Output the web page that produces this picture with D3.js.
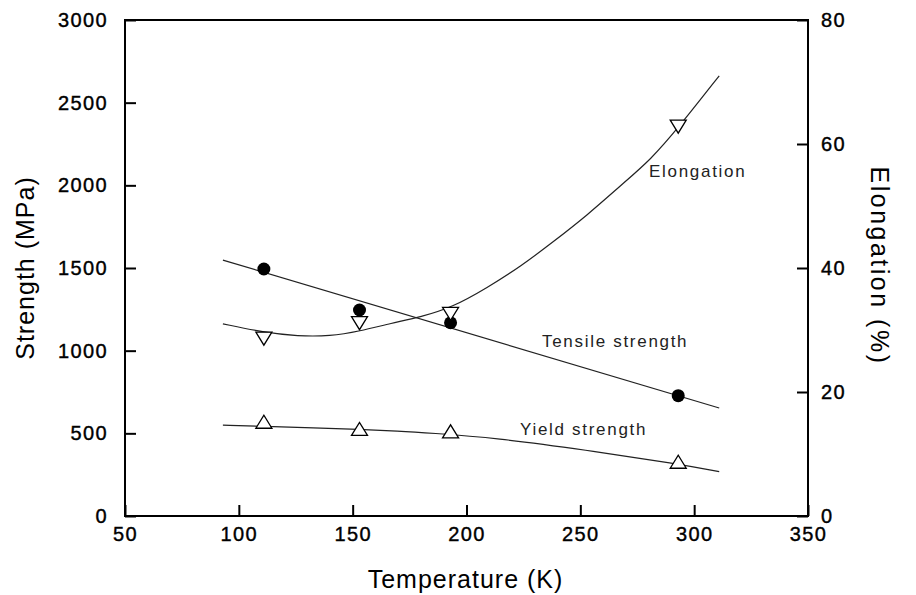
<!DOCTYPE html>
<html>
<head>
<script src="https://d3js.org/d3.v7.min.js"></script>
<style>
  body { margin: 0; background: #fff; }
  text { font-family: "Liberation Sans", Arial, sans-serif; }
</style>
</head>
<body>
<div id="chart"></div>
<script>
// measured points
let temps = [111, 153, 193, 293];
let tensile = [1494, 1246, 1169, 728];
let yieldStr = [570, 527, 512, 328];
let elong = [28.6, 31.1, 32.6, 62.8];

// fitted curves
let tensileFitT = [93, 311];
let tensileFit = [1548, 653];
let yieldFitT = [93, 111, 133, 153, 170, 184, 213, 252, 293, 311];
let yieldFit = [550, 542, 533, 524, 514, 502, 472, 400, 315, 268];
let elongFitT = [93, 111, 126, 140, 153, 167, 180, 194, 209, 224, 238, 253, 268, 281, 293, 311];
let elongFit = [31.0, 29.6, 29.0, 29.0, 29.8, 31.1, 32.1, 33.7, 36.8, 40.3, 44.2, 48.5, 53.4, 57.5, 62.6, 71.0];

let xTicks = [50, 100, 150, 200, 250, 300, 350];
let yLeftTicks = [0, 500, 1000, 1500, 2000, 2500, 3000];
let yRightTicks = [0, 20, 40, 60, 80];

let width = 916, height = 595;
let mLeft = 125, mRight = 808, mTop = 20, mBottom = 516;

let svg = d3.select("#chart").append("svg")
    .attr("width", width)
    .attr("height", height);

svg.append("rect").attr("width", width).attr("height", height).attr("fill", "#fff");

let x = d3.scaleLinear().domain([50, 350]).range([mLeft, mRight]);
let yL = d3.scaleLinear().domain([0, 3000]).range([mBottom, mTop]);
let yR = d3.scaleLinear().domain([0, 80]).range([mBottom, mTop]);

function styleAxis(g) {
    g.select(".domain").remove();
    g.selectAll(".tick line").attr("stroke", "#000").attr("stroke-width", 2);
    g.selectAll(".tick text")
        .attr("fill", "#000")
        .style("font-size", "20px")
        .style("letter-spacing", "1.4px")
        .style("stroke", "#000")
        .style("stroke-width", "0.4px")
        .style("font-family", "'Liberation Sans', Arial, sans-serif");
}

svg.append("g")
    .attr("transform", `translate(0,${mBottom})`)
    .call(d3.axisBottom(x).tickValues(xTicks).tickFormat(d3.format("d"))
        .tickSizeInner(-11).tickSizeOuter(0).tickPadding(11))
    .call(styleAxis);

svg.append("g")
    .attr("transform", `translate(${mLeft},0)`)
    .call(d3.axisLeft(yL).tickValues(yLeftTicks).tickFormat(d3.format("d"))
        .tickSizeInner(-11).tickSizeOuter(0).tickPadding(17))
    .call(styleAxis);

svg.append("g")
    .attr("transform", `translate(${mRight},0)`)
    .call(d3.axisRight(yR).tickValues(yRightTicks).tickFormat(d3.format("d"))
        .tickSizeInner(-11).tickSizeOuter(0).tickPadding(13))
    .call(styleAxis);

// frame
svg.append("rect")
    .attr("x", mLeft).attr("y", mTop)
    .attr("width", mRight - mLeft).attr("height", mBottom - mTop)
    .attr("fill", "none").attr("stroke", "#000").attr("stroke-width", 2);

// fitted lines
let lineL = d3.line().curve(d3.curveBasis).x(d => x(d[0])).y(d => yL(d[1]));
let lineR = d3.line().curve(d3.curveBasis).x(d => x(d[0])).y(d => yR(d[1]));

svg.append("path")
    .attr("d", lineL(d3.zip(tensileFitT, tensileFit)))
    .attr("fill", "none").attr("stroke", "#222").attr("stroke-width", 1.2);
svg.append("path")
    .attr("d", lineL(d3.zip(yieldFitT, yieldFit)))
    .attr("fill", "none").attr("stroke", "#222").attr("stroke-width", 1.2);
svg.append("path")
    .attr("d", lineR(d3.zip(elongFitT, elongFit)))
    .attr("fill", "none").attr("stroke", "#222").attr("stroke-width", 1.2);

// markers
svg.append("g").selectAll("circle")
    .data(d3.zip(temps, tensile))
    .join("circle")
    .attr("cx", d => x(d[0])).attr("cy", d => yL(d[1]))
    .attr("r", 6.5).attr("fill", "#000");

let tw = 8, th = 6.5;
svg.append("g").selectAll("path")
    .data(d3.zip(temps, yieldStr))
    .join("path")
    .attr("d", d => {
        let cx = x(d[0]), cy = yL(d[1]);
        return `M${cx - tw},${cy + th}L${cx + tw},${cy + th}L${cx},${cy - th}Z`;
    })
    .attr("fill", "#fff").attr("stroke", "#000").attr("stroke-width", 1.3);

svg.append("g").selectAll("path")
    .data(d3.zip(temps, elong))
    .join("path")
    .attr("d", d => {
        let cx = x(d[0]), cy = yR(d[1]);
        return `M${cx - tw},${cy - th}L${cx + tw},${cy - th}L${cx},${cy + th}Z`;
    })
    .attr("fill", "#fff").attr("stroke", "#000").attr("stroke-width", 1.3);

// curve labels
let labels = [
    {text: "Elongation", x: 649, y: 177},
    {text: "Tensile strength", x: 542, y: 347},
    {text: "Yield strength", x: 520, y: 435}
];
svg.append("g").selectAll("text")
    .data(labels)
    .join("text")
    .attr("x", d => d.x).attr("y", d => d.y)
    .attr("fill", "#222")
    .style("font-size", "17px")
    .style("letter-spacing", "1.7px")
    .text(d => d.text);

// axis titles
svg.append("text")
    .attr("transform", `translate(${(mLeft + mRight) / 2 - 1},588)`)
    .attr("text-anchor", "middle")
    .style("font-size", "25px")
    .style("letter-spacing", "1px")
    .text("Temperature (K)");

svg.append("text")
    .attr("transform", `translate(34,${(mTop + mBottom) / 2}) rotate(-90)`)
    .attr("text-anchor", "middle")
    .style("font-size", "25px")
    .style("letter-spacing", "1px")
    .text("Strength (MPa)");

svg.append("text")
    .attr("transform", `translate(871,266) rotate(90)`)
    .attr("text-anchor", "middle")
    .style("font-size", "25px")
    .style("letter-spacing", "2.5px")
    .text("Elongation (%)");
</script>
</body>
</html>
